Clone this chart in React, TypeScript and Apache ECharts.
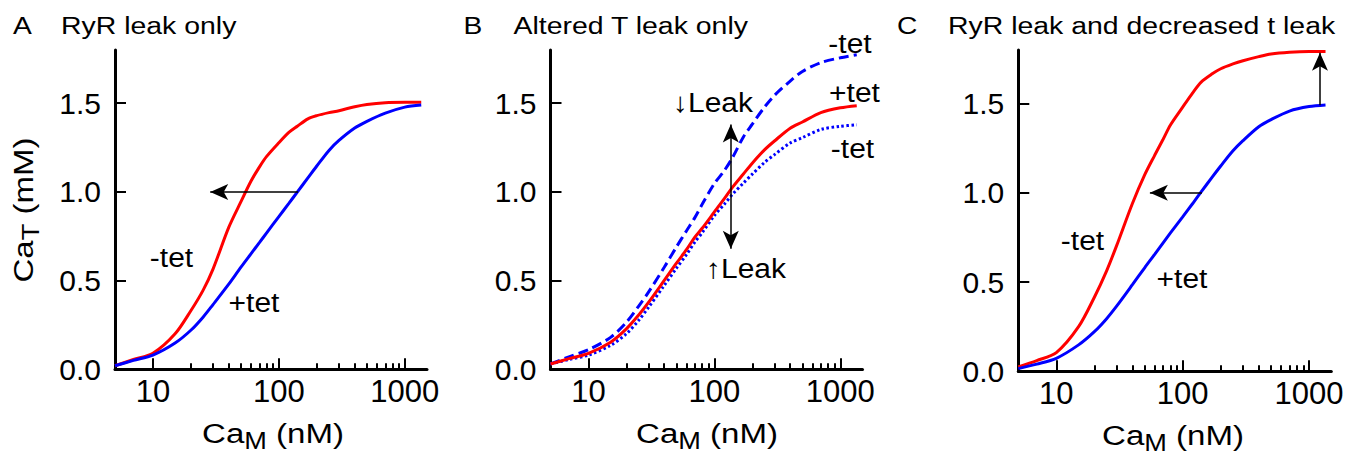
import { useEffect, useRef } from "react";
import * as echarts from "echarts";

// ---- data ----
const caM = [5, 7, 10, 15, 20, 25, 30, 40, 50, 60, 70, 80, 100, 120, 140, 170, 200, 250, 300, 400, 500, 700, 1000, 1350];

// Panel A: RyR leak only
const aMinusTet = [0.02, 0.055, 0.09, 0.2, 0.33, 0.445, 0.565, 0.8, 0.945, 1.06, 1.14, 1.2, 1.277, 1.335, 1.37, 1.412, 1.43, 1.447, 1.458, 1.48, 1.493, 1.503, 1.505, 1.505];
const aPlusTet = [0.02, 0.05, 0.08, 0.148, 0.22, 0.294, 0.365, 0.48, 0.576, 0.651, 0.714, 0.769, 0.861, 0.935, 0.999, 1.079, 1.146, 1.234, 1.29, 1.36, 1.398, 1.444, 1.478, 1.49];

// Panel B: altered T leak only
const bPlusTet = [0.03, 0.06, 0.09, 0.153, 0.228, 0.305, 0.377, 0.501, 0.598, 0.674, 0.745, 0.795, 0.887, 0.962, 1.028, 1.101, 1.162, 1.237, 1.287, 1.359, 1.394, 1.447, 1.474, 1.486];
const bDecreasedLeak = [0.03, 0.07, 0.11, 0.18, 0.265, 0.355, 0.435, 0.575, 0.69, 0.78, 0.855, 0.93, 1.047, 1.12, 1.196, 1.31, 1.382, 1.478, 1.544, 1.625, 1.679, 1.729, 1.756, 1.773];
const bIncreasedLeak = [0.03, 0.055, 0.08, 0.135, 0.2, 0.275, 0.349, 0.473, 0.57, 0.646, 0.717, 0.77, 0.867, 0.931, 0.988, 1.05, 1.1, 1.166, 1.21, 1.276, 1.306, 1.352, 1.37, 1.378];

// Panel C: RyR leak and decreased t leak
const cMinusTet = [0.025, 0.06, 0.105, 0.25, 0.415, 0.563, 0.704, 0.94, 1.1, 1.21, 1.3, 1.38, 1.48, 1.56, 1.62, 1.665, 1.695, 1.722, 1.74, 1.763, 1.778, 1.788, 1.792, 1.792];
const cPlusTet = [0.015, 0.04, 0.073, 0.148, 0.222, 0.295, 0.365, 0.485, 0.58, 0.655, 0.72, 0.775, 0.865, 0.94, 1.005, 1.085, 1.15, 1.235, 1.292, 1.37, 1.41, 1.458, 1.483, 1.492];

// Axis ticks
const xMajorTicks = [10, 100, 1000];
const xMinorTicks = [20, 30, 40, 50, 60, 70, 80, 90, 200, 300, 400, 500, 600, 700, 800, 900];
const yTicks = [0, 0.5, 1.0, 1.5];
const xMin = 5;
const xMax = 1500;
// inward tick heights in CaT units (about 11 px and 6 px)
const majorTickLen = 0.062;
const minorTickLen = 0.034;

// Annotation arrows (data coordinates: [CaM, CaT]); second point is the arrow tip
const arrowA = [[142, 1.0], [28.5, 1.0]];
const arrowB = [[135, 1.38], [135, 0.68]];
const arrowC1 = [[142, 1.0], [55, 1.0]];
const arrowC2 = [[1220, 1.49], [1220, 1.785]];

const FONT = "'Liberation Sans', Arial, Helvetica, sans-serif";
const RED = "#ff0000";
const BLUE = "#0000ff";

const pairs = (ys: number[]) => caM.map((x, i) => [x, ys[i]]);

function xAxis(gridIndex: number) {
  return {
    type: "log",
    logBase: 10,
    gridIndex,
    min: xMin,
    max: xMax,
    position: "bottom",
    axisLine: { show: true, onZero: false, lineStyle: { color: "#000", width: 3 } },
    axisTick: { show: false },
    axisLabel: {
      show: true,
      margin: 7,
      fontSize: 31,
      color: "#000",
      fontFamily: FONT,
      customValues: xMajorTicks,
      formatter: (v: number) => String(Math.round(v)),
    },
    splitLine: { show: false },
    minorTick: { show: false },
  };
}

function yAxis(gridIndex: number) {
  return {
    type: "value",
    gridIndex,
    min: 0,
    max: 1.8,
    axisLine: { show: true, onZero: false, lineStyle: { color: "#000", width: 3 } },
    axisTick: { show: true, inside: true, length: 11, lineStyle: { color: "#000", width: 2 }, customValues: yTicks },
    axisLabel: {
      show: true,
      margin: 14,
      fontSize: 30,
      color: "#000",
      fontFamily: FONT,
      customValues: yTicks,
      formatter: (v: number) => v.toFixed(1),
    },
    splitLine: { show: false },
  };
}

// x tick marks as short vertical segments rising from CaT = 0
function tickSegments() {
  const seg = (v: number, h: number) => [
    { coord: [v, 0], symbol: "none", lineStyle: { color: "#000", width: 2, type: "solid" } },
    { coord: [v, h], symbol: "none" },
  ];
  return [...xMajorTicks.map((v) => seg(v, majorTickLen)), ...xMinorTicks.map((v) => seg(v, minorTickLen))];
}

function line(name: string, idx: number, ys: number[], color: string, type: any, extra: any = {}) {
  return {
    type: "line",
    name,
    xAxisIndex: idx,
    yAxisIndex: idx,
    data: pairs(ys),
    showSymbol: false,
    symbol: "none",
    smooth: 0.3,
    lineStyle: { color, width: 3, type },
    emphasis: { disabled: true },
    silent: true,
    ...extra,
  };
}

function marks(arrows: number[][][], both = false) {
  return {
    silent: true,
    symbol: both ? ["arrow", "arrow"] : ["none", "arrow"],
    symbolSize: [12, 18],
    lineStyle: { color: "#000", width: 1.5, type: "solid" },
    label: { show: false },
    emphasis: { disabled: true },
    data: [...arrows.map((s) => [{ coord: s[0] }, { coord: s[1] }]), ...tickSegments()],
  };
}

function txt(text: string, x: number, y: number, size: number, scaleX = 1, align = "center", vAlign = "middle") {
  return {
    type: "text",
    x,
    y,
    scaleX,
    silent: true,
    style: { text, fontSize: size, fontFamily: FONT, fill: "#000", align, verticalAlign: vAlign },
  };
}

function axisName(main: string, sub: string, rest: string, x: number, y: number, rotation = 0) {
  return {
    type: "text",
    x,
    y,
    rotation,
    scaleX: 1.18,
    silent: true,
    style: {
      text: `{m|${main}}{s|${sub}}{m|${rest}}`,
      fontFamily: FONT,
      fill: "#000",
      align: "center",
      verticalAlign: "top",
      rich: {
        m: { fontSize: 28, fontFamily: FONT, fill: "#000", verticalAlign: "top" },
        s: { fontSize: 23, fontFamily: FONT, fill: "#000", verticalAlign: "bottom", padding: [10, 0, 0, 0] },
      },
    },
  };
}

export default function App() {
  const ref = useRef<HTMLDivElement>(null);
  useEffect(() => {
    if (!ref.current) return;
    const chart = echarts.init(ref.current, undefined, { renderer: "svg" });
    const option: any = {
      animation: false,
      backgroundColor: "#ffffff",
      grid: [
        { left: 115, top: 50, width: 312, height: 319.3, outerBoundsMode: "none", containLabel: false },
        { left: 550.5, top: 50, width: 312, height: 319.3, outerBoundsMode: "none", containLabel: false },
        { left: 1018.3, top: 50, width: 313, height: 321.3, outerBoundsMode: "none", containLabel: false },
      ],
      xAxis: [xAxis(0), xAxis(1), xAxis(2)],
      yAxis: [yAxis(0), yAxis(1), yAxis(2)],
      series: [
        line("A -tet", 0, aMinusTet, RED, "solid", { markLine: marks([arrowA]) }),
        line("A +tet", 0, aPlusTet, BLUE, "solid"),
        line("B -tet (decreased leak)", 1, bDecreasedLeak, BLUE, [10, 5]),
        line("B -tet (increased leak)", 1, bIncreasedLeak, BLUE, [2.5, 2.5]),
        line("B +tet", 1, bPlusTet, RED, "solid", { markLine: marks([arrowB], true) }),
        line("C -tet", 2, cMinusTet, RED, "solid", { markLine: marks([arrowC1, arrowC2]) }),
        line("C +tet", 2, cPlusTet, BLUE, "solid"),
      ],
      graphic: [
        // panel letters and titles
        txt("A", 13, 14, 23.5, 1.2, "left", "top"),
        txt("RyR leak only", 61, 14, 23.5, 1.21, "left", "top"),
        txt("B", 463.5, 14, 23.5, 1.2, "left", "top"),
        txt("Altered T leak only", 513.5, 14, 23.5, 1.21, "left", "top"),
        txt("C", 897, 14, 23.5, 1.2, "left", "top"),
        txt("RyR leak and decreased t leak", 948, 14, 23.5, 1.21, "left", "top"),
        // axis names
        axisName("Ca", "M", " (nM)", 273, 419.3),
        axisName("Ca", "M", " (nM)", 707, 419.3),
        axisName("Ca", "M", " (nM)", 1173, 421),
        axisName("Ca", "T", " (mM)", 9.3, 210, Math.PI / 2),
        // curve annotations
        txt("-tet", 171.5, 257.3, 28, 1.07),
        txt("+tet", 254, 302, 28, 1.07),
        txt("-tet", 850, 43.3, 28, 1.07),
        txt("+tet", 854.5, 92.3, 28, 1.07),
        txt("-tet", 852.5, 148.3, 28, 1.07),
        txt("\u2193Leak", 713, 102.3, 28, 1.07),
        txt("\u2191Leak", 746, 268.3, 28, 1.07),
        txt("-tet", 1082.5, 240.3, 28, 1.07),
        txt("+tet", 1182, 278.3, 28, 1.07),
      ],
    };
    chart.setOption(option);
    return () => chart.dispose();
  }, []);
  return (
    <div
      ref={ref}
      style={{ position: "absolute", left: 0, top: 0, width: 1357, height: 455, background: "#fff" }}
    />
  );
}
